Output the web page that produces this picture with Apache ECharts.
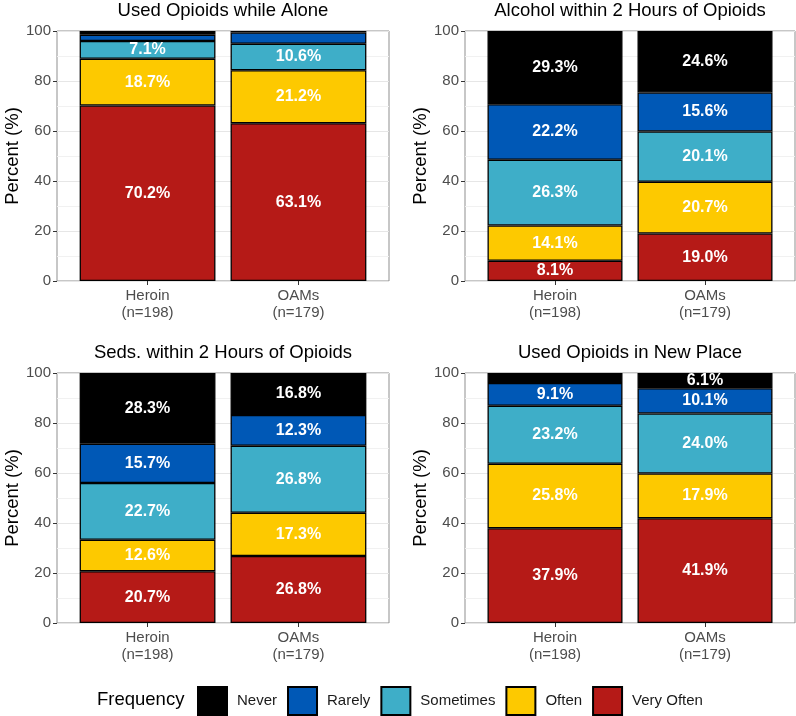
<!DOCTYPE html>
<html>
<head>
<meta charset="utf-8">
<script src="https://cdn.jsdelivr.net/npm/echarts@6/dist/echarts.min.js"></script>
<style>
html,body{margin:0;padding:0;background:#fff;}
#chart{width:796px;height:716px;}
</style>
</head>
<body>
<div id="chart"></div>
<script>
// ---- data ----
var groups = ['Heroin', 'OAMs'];
var groupN = ['(n=198)', '(n=179)'];
// stacking order bottom -> top
var levels = ['Very Often', 'Often', 'Sometimes', 'Rarely', 'Never'];
var legendOrder = ['Never', 'Rarely', 'Sometimes', 'Often', 'Very Often'];
var levelColors = ['#b51a17', '#fdc900', '#3eaec8', '#0058b6', '#000000'];
var panelTitles = ['Used Opioids while Alone', 'Alcohol within 2 Hours of Opioids',
                   'Seds. within 2 Hours of Opioids', 'Used Opioids in New Place'];

// values per level (Very Often, Often, Sometimes, Rarely, Never)
var aloneHeroin   = [70.2, 18.7, 7.1, 2.5, 1.5];
var aloneOAMs     = [63.1, 21.2, 10.6, 4.5, 0.6];
var alcoholHeroin = [8.1, 14.1, 26.3, 22.2, 29.3];
var alcoholOAMs   = [19.0, 20.7, 20.1, 15.6, 24.6];
var sedsHeroin    = [20.7, 12.6, 22.7, 15.7, 28.3];
var sedsOAMs      = [26.8, 17.3, 26.8, 12.3, 16.8];
var newHeroin     = [37.9, 25.8, 23.2, 9.1, 4.0];
var newOAMs       = [41.9, 17.9, 24.0, 10.1, 6.1];

var panels = [
  [aloneHeroin, aloneOAMs],
  [alcoholHeroin, alcoholOAMs],
  [sedsHeroin, sedsOAMs],
  [newHeroin, newOAMs]
];

// ---- layout ----
var FONT = '"Liberation Sans", Arial, Helvetica, sans-serif';
var panelBoxes = [
  {left: 57, top: 31, width: 332, height: 250},
  {left: 465, top: 31, width: 330, height: 250},
  {left: 57, top: 373, width: 332, height: 250},
  {left: 465, top: 373, width: 330, height: 250}
];

var option = {
  animation: false,
  backgroundColor: '#ffffff',
  textStyle: {fontFamily: FONT},
  title: [],
  grid: [],
  xAxis: [],
  yAxis: [],
  series: [],
  legend: {
    data: legendOrder,
    left: 197,
    top: 686,
    padding: 0,
    itemWidth: 29,
    itemHeight: 28,
    itemGap: 10,
    icon: 'rect',
    textStyle: {fontFamily: FONT, fontSize: 15, color: '#1a1a1a', padding: [0, 0, 0, 5]}
  },
  graphic: [{
    type: 'text',
    left: 97,
    top: 690,
    style: {text: 'Frequency', font: '18.5px ' + FONT, fill: '#000'}
  }]
};

panelBoxes.forEach(function (g, p) {
  var unit = g.width / 2.2;
  var bg = 2 * p, fg = 2 * p + 1;
  // background grid: panel border, y axis, gridlines
  option.grid.push({
    left: g.left, top: g.top, width: g.width, height: g.height,
    show: true, borderColor: '#8f8f8f', borderWidth: 1, backgroundColor: '#ffffff'
  });
  // data grid: category axis positioned like ggplot's discrete expansion
  option.grid.push({
    left: g.left + 0.1 * unit, top: g.top, width: 2 * unit, height: g.height,
    show: false
  });
  option.title.push({
    text: panelTitles[p],
    left: g.left + g.width / 2,
    top: g.top - 30,
    padding: 0,
    textAlign: 'center',
    textStyle: {fontFamily: FONT, fontSize: 18.5, fontWeight: 'normal', color: '#000'}
  });
  option.xAxis.push({
    type: 'value', gridIndex: bg, min: 0, max: 1, show: false
  });
  option.xAxis.push({
    type: 'category',
    gridIndex: fg,
    data: groups,
    axisLine: {show: false},
    axisTick: {show: true, alignWithLabel: true, length: 4, lineStyle: {color: '#333333'}},
    axisLabel: {
      margin: 6,
      fontSize: 15,
      lineHeight: 17,
      color: '#4d4d4d',
      fontFamily: FONT,
      formatter: function (v, i) {
        return v + '\n' + groupN[i];
      }
    }
  });
  option.yAxis.push({
    type: 'value',
    gridIndex: bg,
    min: 0,
    max: 100,
    interval: 20,
    name: 'Percent (%)',
    nameLocation: 'middle',
    nameGap: 31,
    nameTextStyle: {fontFamily: FONT, fontSize: 18.5, color: '#000'},
    axisLine: {show: false},
    axisTick: {show: true, length: 4, lineStyle: {color: '#333333'}},
    axisLabel: {fontSize: 15, color: '#4d4d4d', fontFamily: FONT, margin: 6},
    splitLine: {show: true, lineStyle: {color: '#e6e6e6', width: 1}},
    minorTick: {show: false, splitNumber: 2},
    minorSplitLine: {show: true, lineStyle: {color: '#f1f1f1', width: 1}}
  });
  option.yAxis.push({
    type: 'value', gridIndex: fg, min: 0, max: 100, show: false
  });
  levels.forEach(function (lv, li) {
    option.series.push({
      name: lv,
      type: 'bar',
      xAxisIndex: fg,
      yAxisIndex: fg,
      stack: 'panel' + p,
      barWidth: '90%',
      data: groups.map(function (gname, gi) { return panels[p][gi][li]; }),
      itemStyle: {color: levelColors[li], borderColor: '#000000', borderWidth: 1.3},
      label: {
        show: true,
        position: 'inside',
        color: '#ffffff',
        fontWeight: 'bold',
        fontSize: 16,
        fontFamily: FONT,
        formatter: function (prm) {
          var v = prm.value;
          return v >= 5 ? v.toFixed(1) + '%' : '';
        }
      }
    });
  });
});

var chart = echarts.init(document.getElementById('chart'), null, {renderer: 'canvas'});
chart.setOption(option);
</script>
</body>
</html>
